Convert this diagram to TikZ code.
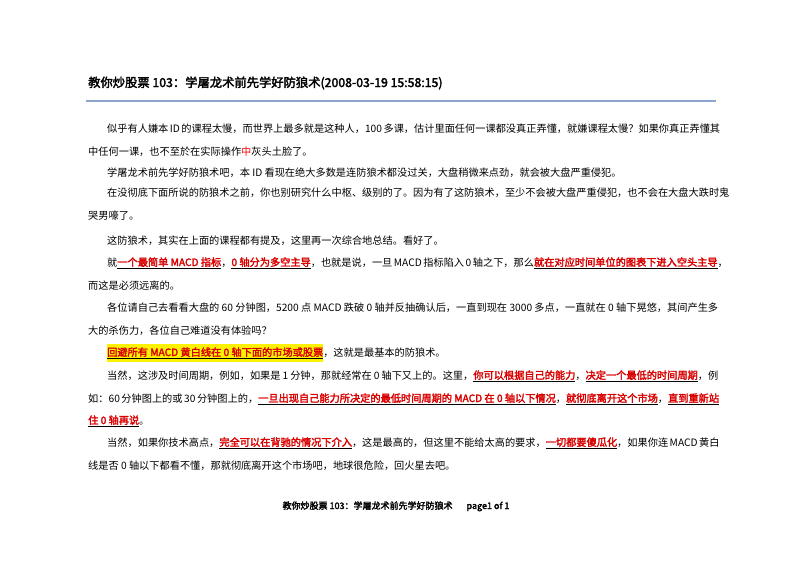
\documentclass[tikz,border=0pt]{standalone}
\usepackage{fontspec}
\setmainfont{Noto Sans CJK SC}[AutoFakeBold=2.5]
\usepackage{xcolor}
\definecolor{rule}{RGB}{140,165,205}
\newcommand{\hl}[1]{\underline{\textcolor{red!85!black}{\bfseries #1}}}
\newcommand{\jl}[3]{\hbox to #1{\XeTeXlinebreaklocale "zh"\XeTeXlinebreakskip=0pt plus 6pt\relax #2\ifx#3e\hfil\fi}}
\begin{document}
\begin{tikzpicture}[x=1pt,y=-1pt,
  ln/.style={anchor=base west,inner sep=0pt,font=\fontsize{10.2}{12}\selectfont}]
\useasboundingbox (0,0) rectangle (800,566);
\node[anchor=base west,inner sep=0pt,font=\fontsize{12.3}{15}\selectfont\bfseries] (title) at (88,87)
 {教你炒股票 103：学屠龙术前先学好防狼术(2008-03-19 15:58:15)};
\coordinate (l1) at (86,101); \coordinate (l2) at (716,101);
\draw[rule,line width=1.2pt] (l1) -- (l2);
\node[ln] (a1) at (107,132) {\jl{611pt}{似乎有人嫌本 ID 的课程太慢，而世界上最多就是这种人，100 多课，估计里面任何一课都没真正弄懂，就嫌课程太慢？如果你真正弄懂其}{j}};
\node[ln] (a2) at (88,155) {中任何一课，也不至於在实际操作\textcolor{red}{中}灰头土脸了。};
\node[ln] (b1) at (107,176) {学屠龙术前先学好防狼术吧，本 ID 看现在绝大多数是连防狼术都没过关，大盘稍微来点劲，就会被大盘严重侵犯。};
\node[ln] (c1) at (107,196) {\jl{611pt}{在没彻底下面所说的防狼术之前，你也别研究什么中枢、级别的了。因为有了这防狼术，至少不会被大盘严重侵犯，也不会在大盘大跌时鬼}{j}};
\node[ln] (c2) at (88,219) {哭男嚎了。};
\node[ln] (d1) at (107,244) {这防狼术，其实在上面的课程都有提及，这里再一次综合地总结。看好了。};
\node[ln] (e1) at (107,266) {\jl{611pt}{就\hl{一个最简单 MACD 指标}，\hl{0 轴分为多空主导}，也就是说，一旦 MACD 指标陷入 0 轴之下，那么\hl{就在对应时间单位的图表下进入空头主导}，}{j}};
\node[ln] (e2) at (88,289) {而这是必须远离的。};
\node[ln] (f1) at (107,311) {\jl{611pt}{各位请自己去看看大盘的 60 分钟图，5200 点 MACD 跌破 0 轴并反抽确认后，一直到现在 3000 多点，一直就在 0 轴下晃悠，其间产生多}{j}};
\node[ln] (f2) at (88,334) {大的杀伤力，各位自己难道没有体验吗？};
\node[ln] (g1) at (107,356) {\colorbox{yellow}{\hspace{-3pt}\hl{回避所有 MACD 黄白线在 0 轴下面的市场或股票}\hspace{-3pt}}，这就是最基本的防狼术。};
\node[ln] (h1) at (107,379) {\jl{611pt}{当然，这涉及时间周期，例如，如果是 1 分钟，那就经常在 0 轴下又上的。这里，\hl{你可以根据自己的能力}，\hl{决定一个最低的时间周期}，例}{j}};
\node[ln] (h2) at (88,402) {\jl{630pt}{如：60 分钟图上的或 30 分钟图上的，\hl{一旦出现自己能力所决定的最低时间周期的 MACD 在 0 轴以下情况}，\hl{就彻底离开这个市场}，\hl{直到重新站}}{j}};
\node[ln] (h3) at (88,424) {\hl{住 0 轴再说}。};
\node[ln] (i1) at (107,446) {\jl{611pt}{当然，如果你技术高点，\hl{完全可以在背驰的情况下介入}，这是最高的，但这里不能给太高的要求，\hl{一切都要傻瓜化}，如果你连 MACD 黄白}{j}};
\node[ln] (i2) at (88,469) {线是否 0 轴以下都看不懂，那就彻底离开这个市场吧，地球很危险，回火星去吧。};
\node[anchor=base,inner sep=0pt,font=\fontsize{9}{12}\selectfont\bfseries] (foot) at (396,509)
 {教你炒股票 103：学屠龙术前先学好防狼术\hspace{14pt}page1 of 1};
\end{tikzpicture}
\end{document}
